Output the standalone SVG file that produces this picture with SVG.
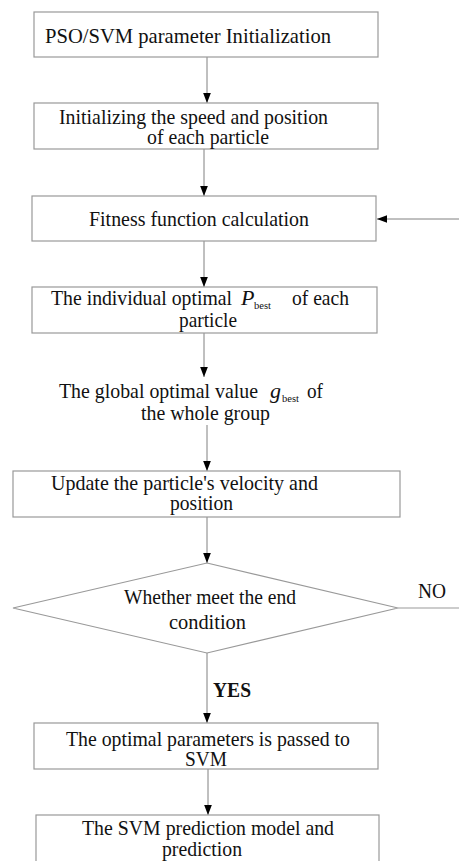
<svg xmlns="http://www.w3.org/2000/svg" width="459" height="861" viewBox="0 0 459 861">
<defs>
<marker id="ah" markerUnits="userSpaceOnUse" markerWidth="10" markerHeight="13" refX="13" refY="5" orient="auto" viewBox="0 0 13 10">
<path d="M0,0 L13,5 L0,10 Z" fill="#000"/>
</marker>
</defs>
<style>
.box{fill:#fff;stroke:#999;stroke-width:1.2}
.t{font-family:"Liberation Serif","Times New Roman",serif;font-size:22px;fill:#111}
.sub{font-family:"Liberation Serif","Times New Roman",serif;font-size:10px;fill:#111}
.it{font-style:italic}
.b{font-weight:bold}
.c{stroke:#808080;stroke-width:1;fill:none;marker-end:url(#ah)}
.l{stroke:#999;stroke-width:1;fill:none}
</style>
<rect width="459" height="861" fill="#fff"/>
<g id="connectors">
<line class="c" x1="207" y1="57" x2="207" y2="103"/>
<line class="c" x1="204" y1="149" x2="204" y2="196"/>
<line class="c" x1="459" y1="219" x2="377" y2="219"/>
<line class="c" x1="204" y1="241" x2="204" y2="287"/>
<line class="c" x1="204" y1="333" x2="204" y2="377"/>
<line class="c" x1="207" y1="425" x2="207" y2="471"/>
<line class="c" x1="207" y1="517" x2="207" y2="563"/>
<line class="l" x1="398" y1="608" x2="459" y2="608"/>
<line class="c" x1="207" y1="653" x2="207" y2="723"/>
<line class="c" x1="208" y1="769" x2="208" y2="815"/>
<text class="t" x="418" y="598" textLength="28" lengthAdjust="spacingAndGlyphs">NO</text>
<text class="t b" x="213" y="697" textLength="38" lengthAdjust="spacingAndGlyphs">YES</text>
</g>
<g id="n1">
<rect class="box" x="34" y="12" width="344" height="45"/>
<text class="t" x="45" y="43" textLength="286" lengthAdjust="spacingAndGlyphs">PSO/SVM parameter Initialization</text>
</g>
<g id="n2">
<rect class="box" x="34" y="103" width="344" height="46"/>
<text class="t" x="59" y="124" textLength="269" lengthAdjust="spacingAndGlyphs">Initializing the speed and position</text>
<text class="t" x="147" y="144" textLength="122" lengthAdjust="spacingAndGlyphs">of each particle</text>
</g>
<g id="n3">
<rect class="box" x="32" y="196" width="344" height="45"/>
<text class="t" x="89" y="226" textLength="220" lengthAdjust="spacingAndGlyphs">Fitness function calculation</text>
</g>
<g id="n4">
<rect class="box" x="32" y="287" width="345" height="46"/>
<text class="t" x="51" y="305" textLength="181" lengthAdjust="spacingAndGlyphs">The individual optimal</text>
<text class="t it" x="241" y="305">P</text>
<text class="sub" x="254" y="309" textLength="17" lengthAdjust="spacingAndGlyphs">best</text>
<text class="t" x="292" y="305" textLength="57" lengthAdjust="spacingAndGlyphs">of each</text>
<text class="t" x="179" y="327" textLength="58" lengthAdjust="spacingAndGlyphs">particle</text>
</g>
<g id="n5">
<text class="t" x="59" y="398" textLength="199" lengthAdjust="spacingAndGlyphs">The global optimal value</text>
<text class="t it" x="270" y="398">g</text>
<text class="sub" x="282" y="402" textLength="17" lengthAdjust="spacingAndGlyphs">best</text>
<text class="t" x="307" y="398" textLength="16" lengthAdjust="spacingAndGlyphs">of</text>
<text class="t" x="141" y="420" textLength="129" lengthAdjust="spacingAndGlyphs">the whole group</text>
</g>
<g id="n6">
<rect class="box" x="13" y="471" width="387" height="46"/>
<text class="t" x="51" y="490" textLength="267" lengthAdjust="spacingAndGlyphs">Update the particle's velocity and</text>
<text class="t" x="170" y="510" textLength="63" lengthAdjust="spacingAndGlyphs">position</text>
</g>
<g id="n7">
<polygon class="box" points="207,563 398,608 207,653 13,608"/>
<text class="t" x="124" y="604" textLength="172" lengthAdjust="spacingAndGlyphs">Whether meet the end</text>
<text class="t" x="169" y="629" textLength="77" lengthAdjust="spacingAndGlyphs">condition</text>
</g>
<g id="n8">
<rect class="box" x="34" y="723" width="344" height="46"/>
<text class="t" x="66" y="746" textLength="284" lengthAdjust="spacingAndGlyphs">The optimal parameters is passed to</text>
<text class="t" x="185" y="766" textLength="42" lengthAdjust="spacingAndGlyphs">SVM</text>
</g>
<g id="n9">
<rect class="box" x="36" y="815" width="343" height="60"/>
<text class="t" x="82" y="835" textLength="252" lengthAdjust="spacingAndGlyphs">The SVM prediction model and</text>
<text class="t" x="162" y="856" textLength="80" lengthAdjust="spacingAndGlyphs">prediction</text>
</g>
</svg>
